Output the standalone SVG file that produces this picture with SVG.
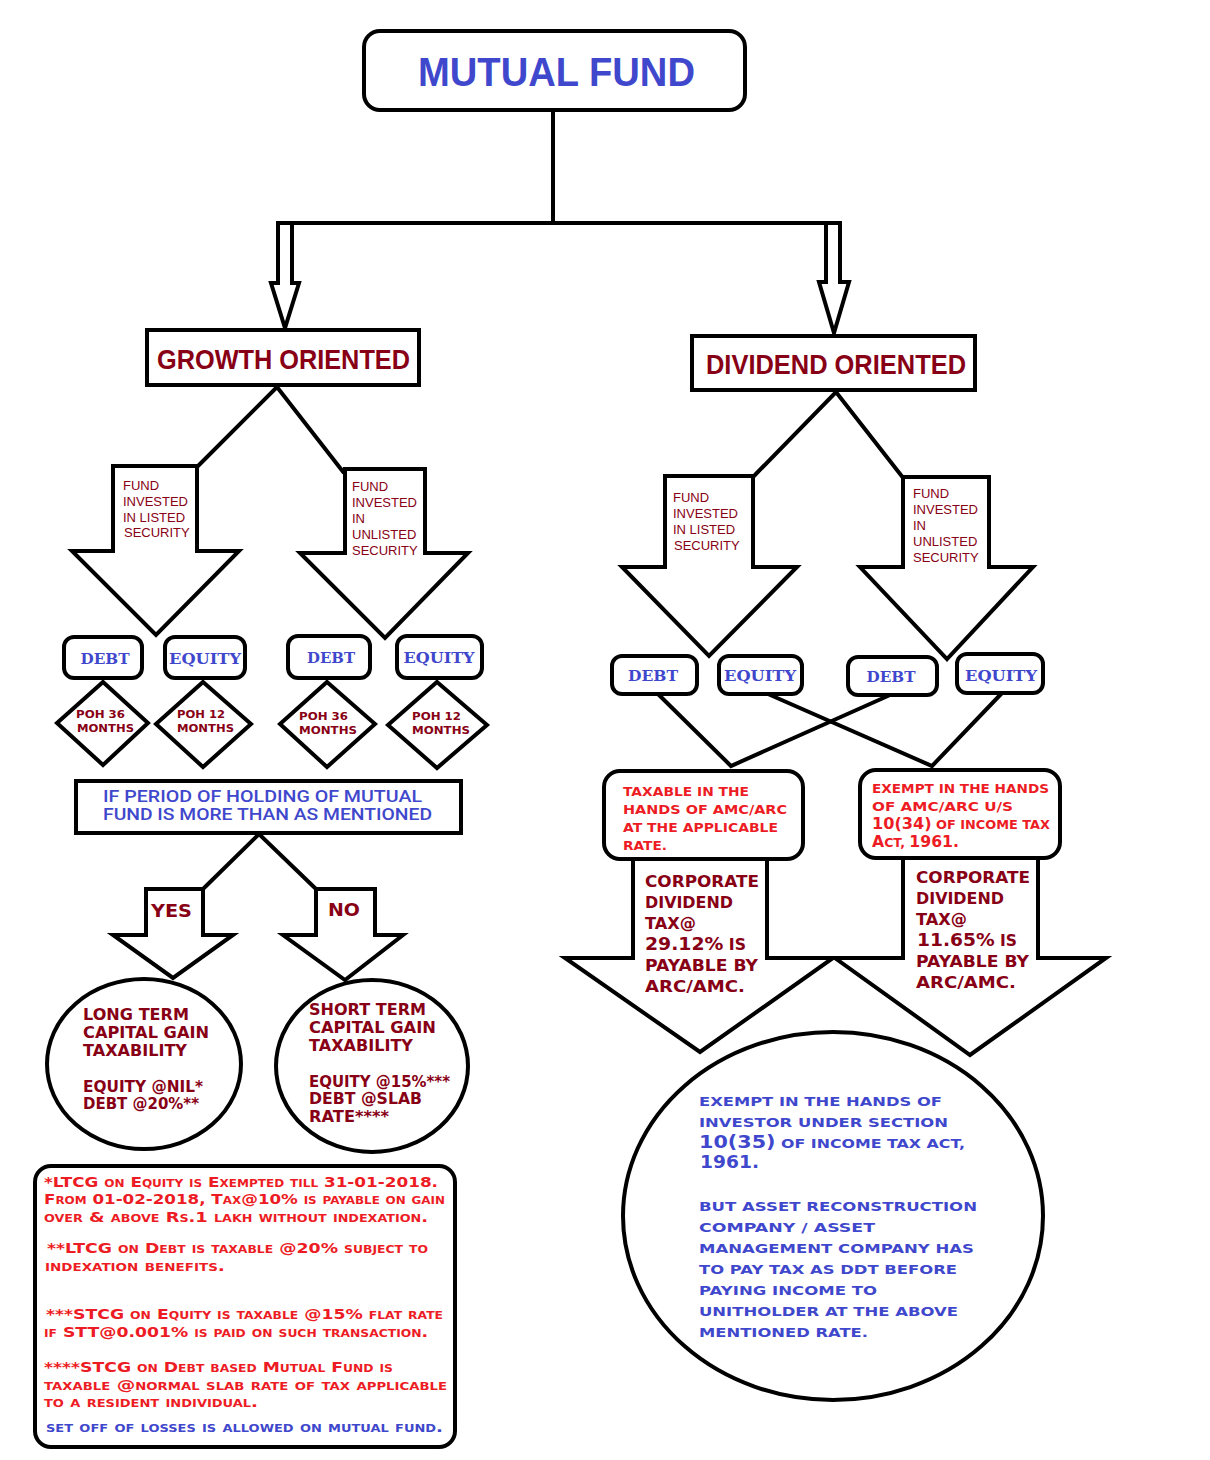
<svg xmlns="http://www.w3.org/2000/svg" width="1210" height="1460" viewBox="0 0 1210 1460">
<style>
.ln{fill:none;stroke:#000;stroke-width:4;stroke-linejoin:miter}
.bx{fill:#fff;stroke:#000;stroke-width:4;stroke-linejoin:miter}
.fi{font-family:"Liberation Sans",Arial,sans-serif;font-size:13px;fill:#880015}
.cg{font-family:"DejaVu Sans",Verdana,sans-serif;font-weight:bold}
.dr{fill:#880015}
.rd{fill:#ED1C24}
.bl{fill:#3F48CC}
.de{font-family:"DejaVu Serif",Georgia,serif;font-weight:bold;font-size:15px;fill:#3F48CC;text-anchor:middle}
.hd{font-family:"Liberation Sans",Arial,sans-serif;font-weight:bold}
.fn{font-family:"DejaVu Sans",Verdana,sans-serif;font-weight:bold;font-size:14px;font-variant:small-caps}
.pm{font-family:Roboto,"Liberation Sans",Arial,sans-serif;font-weight:500;font-size:16px;fill:#3F48CC}
</style>
<rect width="1210" height="1460" fill="#fff"/>

<g id="connectors">
  <path class="ln" d="M553,110 V223 M276,223 H842"/>
  <path class="ln" d="M278,223 V283 H271 L285,328 L299,283 H292 V225"/>
  <path class="ln" d="M826,223 V282 H819 L834,333 L849,282 H840 V225"/>
  <path class="ln" d="M197,467 L277,387 L344,473"/>
  <path class="ln" d="M753,477 L836,392 L904,479"/>
  <path class="ln" d="M203,889 L259,834 L316,889"/>
  <path class="ln" d="M658,694 L731,766 L890,695"/>
  <path class="ln" d="M768,694 L932,766 L1002,693"/>
</g>

<g id="mutual-fund">
  <rect class="bx" x="364" y="31" width="381" height="79" rx="16"/>
  <text class="hd bl" x="418" y="86" font-size="40" textLength="277" lengthAdjust="spacingAndGlyphs">MUTUAL FUND</text>
</g>

<g id="growth-oriented">
  <rect class="bx" x="147" y="330" width="272" height="55"/>
  <text class="hd dr" x="157" y="369" font-size="28" textLength="253" lengthAdjust="spacingAndGlyphs">GROWTH ORIENTED</text>
</g>

<g id="dividend-oriented">
  <rect class="bx" x="692" y="336" width="283" height="54"/>
  <text class="hd dr" x="706" y="374" font-size="28" textLength="260" lengthAdjust="spacingAndGlyphs">DIVIDEND ORIENTED</text>
</g>

<g id="growth-listed">
  <path class="bx" d="M113,466 V551 H72 L156,635 L239,551 H197 V466 Z"/>
  <text class="fi" x="123" y="490">FUND</text>
  <text class="fi" x="123" y="506">INVESTED</text>
  <text class="fi" x="123" y="522">IN LISTED</text>
  <text class="fi" x="124" y="537">SECURITY</text>
</g>

<g id="growth-unlisted">
  <path class="bx" d="M345,469 V553 H300 L385,638 L468,553 H425 V469 Z"/>
  <text class="fi" x="352" y="491">FUND</text>
  <text class="fi" x="352" y="507">INVESTED</text>
  <text class="fi" x="352" y="523">IN</text>
  <text class="fi" x="352" y="539">UNLISTED</text>
  <text class="fi" x="352" y="555">SECURITY</text>
</g>

<g id="g-debt-listed">
  <rect class="bx" x="64" y="637" width="78" height="41" rx="10"/>
  <text class="de" x="105" y="664" textLength="49" lengthAdjust="spacingAndGlyphs">DEBT</text>
</g>
<g id="g-equity-listed">
  <rect class="bx" x="165" y="637" width="80" height="41" rx="10"/>
  <text class="de" x="205" y="664" textLength="72" lengthAdjust="spacingAndGlyphs">EQUITY</text>
</g>
<g id="g-debt-unlisted">
  <rect class="bx" x="288" y="636" width="82" height="42" rx="10"/>
  <text class="de" x="331" y="663" textLength="48" lengthAdjust="spacingAndGlyphs">DEBT</text>
</g>
<g id="g-equity-unlisted">
  <rect class="bx" x="397" y="636" width="85" height="42" rx="10"/>
  <text class="de" x="439" y="663" textLength="71" lengthAdjust="spacingAndGlyphs">EQUITY</text>
</g>

<g id="poh-1">
  <polygon class="bx" points="103,682 148,723 103,765 57,723"/>
  <text class="cg dr" x="76" y="718" font-size="10" textLength="49" lengthAdjust="spacingAndGlyphs">POH 36</text>
  <text class="cg dr" x="77" y="732" font-size="10" textLength="57" lengthAdjust="spacingAndGlyphs">MONTHS</text>
</g>
<g id="poh-2">
  <polygon class="bx" points="203,682 251,724 203,767 156,724"/>
  <text class="cg dr" x="177" y="718" font-size="10" textLength="48" lengthAdjust="spacingAndGlyphs">POH 12</text>
  <text class="cg dr" x="177" y="732" font-size="10" textLength="57" lengthAdjust="spacingAndGlyphs">MONTHS</text>
</g>
<g id="poh-3">
  <polygon class="bx" points="327,682 375,724 327,767 280,724"/>
  <text class="cg dr" x="299" y="720" font-size="10" textLength="49" lengthAdjust="spacingAndGlyphs">POH 36</text>
  <text class="cg dr" x="299" y="734" font-size="10" textLength="58" lengthAdjust="spacingAndGlyphs">MONTHS</text>
</g>
<g id="poh-4">
  <polygon class="bx" points="437,682 487,725 437,768 388,725"/>
  <text class="cg dr" x="412" y="720" font-size="10" textLength="49" lengthAdjust="spacingAndGlyphs">POH 12</text>
  <text class="cg dr" x="412" y="734" font-size="10" textLength="58" lengthAdjust="spacingAndGlyphs">MONTHS</text>
</g>

<g id="period-of-holding">
  <rect class="bx" x="76" y="781" width="385" height="52"/>
  <text class="pm" x="103" y="802" textLength="319" lengthAdjust="spacingAndGlyphs">IF PERIOD OF HOLDING OF MUTUAL</text>
  <text class="pm" x="103" y="820" textLength="329" lengthAdjust="spacingAndGlyphs">FUND IS MORE THAN AS MENTIONED</text>
</g>

<g id="yes">
  <path class="bx" d="M146,889 V935 H113 L173,978 L233,935 H203 V889 Z"/>
  <text class="cg dr" x="151" y="917" font-size="18" textLength="41" lengthAdjust="spacingAndGlyphs">YES</text>
</g>
<g id="no">
  <path class="bx" d="M316,889 V935 H283 L345,980 L403,935 H375 V889 Z"/>
  <text class="cg dr" x="328" y="916" font-size="18" textLength="32" lengthAdjust="spacingAndGlyphs">NO</text>
</g>

<g id="ltcg">
  <ellipse class="bx" cx="144" cy="1064" rx="97" ry="85"/>
  <text class="cg dr" x="83" y="1020" font-size="15" textLength="106" lengthAdjust="spacingAndGlyphs">LONG TERM</text>
  <text class="cg dr" x="83" y="1038" font-size="15" textLength="126" lengthAdjust="spacingAndGlyphs">CAPITAL GAIN</text>
  <text class="cg dr" x="83" y="1056" font-size="15" textLength="104" lengthAdjust="spacingAndGlyphs">TAXABILITY</text>
  <text class="cg dr" x="83" y="1092" font-size="15" textLength="120" lengthAdjust="spacingAndGlyphs">EQUITY @NIL*</text>
  <text class="cg dr" x="83" y="1109" font-size="15" textLength="116" lengthAdjust="spacingAndGlyphs">DEBT @20%**</text>
</g>
<g id="stcg">
  <ellipse class="bx" cx="372" cy="1066" rx="96" ry="86"/>
  <text class="cg dr" x="309" y="1015" font-size="15" textLength="117" lengthAdjust="spacingAndGlyphs">SHORT TERM</text>
  <text class="cg dr" x="309" y="1033" font-size="15" textLength="127" lengthAdjust="spacingAndGlyphs">CAPITAL GAIN</text>
  <text class="cg dr" x="309" y="1051" font-size="15" textLength="104" lengthAdjust="spacingAndGlyphs">TAXABILITY</text>
  <text class="cg dr" x="309" y="1087" font-size="15" textLength="141" lengthAdjust="spacingAndGlyphs">EQUITY @15%***</text>
  <text class="cg dr" x="309" y="1104" font-size="15" textLength="113" lengthAdjust="spacingAndGlyphs">DEBT @SLAB</text>
  <text class="cg dr" x="309" y="1122" font-size="15" textLength="80" lengthAdjust="spacingAndGlyphs">RATE****</text>
</g>

<g id="footnotes">
  <rect class="bx" x="35" y="1166" width="420" height="281" rx="16"/>
  <text class="fn rd" x="44" y="1187" textLength="394" lengthAdjust="spacingAndGlyphs">*LTCG on Equity is Exempted till 31-01-2018.</text>
  <text class="fn rd" x="44" y="1204" textLength="401" lengthAdjust="spacingAndGlyphs">From 01-02-2018, Tax@10% is payable on gain</text>
  <text class="fn rd" x="44" y="1222" textLength="384" lengthAdjust="spacingAndGlyphs">over &amp; above Rs.1 lakh without indexation.</text>
  <text class="fn rd" x="47" y="1253" textLength="381" lengthAdjust="spacingAndGlyphs">**LTCG on Debt is taxable @20% subject to</text>
  <text class="fn rd" x="45" y="1271" textLength="180" lengthAdjust="spacingAndGlyphs">indexation benefits.</text>
  <text class="fn rd" x="46" y="1319" textLength="397" lengthAdjust="spacingAndGlyphs">***STCG on Equity is taxable @15% flat rate</text>
  <text class="fn rd" x="44" y="1337" textLength="384" lengthAdjust="spacingAndGlyphs">if STT@0.001% is paid on such transaction.</text>
  <text class="fn rd" x="44" y="1372" textLength="349" lengthAdjust="spacingAndGlyphs">****STCG on Debt based Mutual Fund is</text>
  <text class="fn rd" x="44" y="1390" textLength="403" lengthAdjust="spacingAndGlyphs">taxable @normal slab rate of tax applicable</text>
  <text class="fn rd" x="44" y="1407" textLength="214" lengthAdjust="spacingAndGlyphs">to a resident individual.</text>
  <text class="fn bl" x="46" y="1432" textLength="397" lengthAdjust="spacingAndGlyphs">set off of losses is allowed on mutual fund.</text>
</g>

<g id="dividend-listed">
  <path class="bx" d="M665,476 V567 H622 L709,656 L797,567 H753 V476 Z"/>
  <text class="fi" x="673" y="502">FUND</text>
  <text class="fi" x="673" y="518">INVESTED</text>
  <text class="fi" x="673" y="534">IN LISTED</text>
  <text class="fi" x="674" y="550">SECURITY</text>
</g>
<g id="dividend-unlisted">
  <path class="bx" d="M903,477 V567 H860 L947,659 L1033,567 H989 V477 Z"/>
  <text class="fi" x="913" y="498">FUND</text>
  <text class="fi" x="913" y="514">INVESTED</text>
  <text class="fi" x="913" y="530">IN</text>
  <text class="fi" x="913" y="546">UNLISTED</text>
  <text class="fi" x="913" y="562">SECURITY</text>
</g>

<g id="d-debt-listed">
  <rect class="bx" x="612" y="656" width="85" height="38" rx="10"/>
  <text class="de" x="653" y="681" textLength="50" lengthAdjust="spacingAndGlyphs">DEBT</text>
</g>
<g id="d-equity-listed">
  <rect class="bx" x="719" y="656" width="83" height="38" rx="10"/>
  <text class="de" x="760" y="681" textLength="72" lengthAdjust="spacingAndGlyphs">EQUITY</text>
</g>
<g id="d-debt-unlisted">
  <rect class="bx" x="848" y="657" width="89" height="38" rx="10"/>
  <text class="de" x="891" y="682" textLength="49" lengthAdjust="spacingAndGlyphs">DEBT</text>
</g>
<g id="d-equity-unlisted">
  <rect class="bx" x="957" y="654" width="86" height="39" rx="10"/>
  <text class="de" x="1001" y="681" textLength="72" lengthAdjust="spacingAndGlyphs">EQUITY</text>
</g>

<g id="cdt-left">
  <path class="bx" d="M633,857 V958 H565 L700,1052 L833,958 H767 V857 Z"/>
  <text class="cg dr" x="645" y="887" font-size="15" textLength="114" lengthAdjust="spacingAndGlyphs">CORPORATE</text>
  <text class="cg dr" x="645" y="908" font-size="15" textLength="88" lengthAdjust="spacingAndGlyphs">DIVIDEND</text>
  <text class="cg dr" x="645" y="929" font-size="15" textLength="51" lengthAdjust="spacingAndGlyphs">TAX@</text>
  <text class="cg dr" x="645" y="950" font-size="15" textLength="101" lengthAdjust="spacingAndGlyphs"><tspan font-size="18">29.12%</tspan> IS</text>
  <text class="cg dr" x="645" y="971" font-size="15" textLength="113" lengthAdjust="spacingAndGlyphs">PAYABLE BY</text>
  <text class="cg dr" x="645" y="992" font-size="15" textLength="100" lengthAdjust="spacingAndGlyphs">ARC/AMC.</text>
</g>
<g id="cdt-right">
  <path class="bx" d="M903,856 V958 H835 L970,1055 L1106,958 H1038 V856 Z"/>
  <text class="cg dr" x="916" y="883" font-size="15" textLength="114" lengthAdjust="spacingAndGlyphs">CORPORATE</text>
  <text class="cg dr" x="916" y="904" font-size="15" textLength="88" lengthAdjust="spacingAndGlyphs">DIVIDEND</text>
  <text class="cg dr" x="916" y="925" font-size="15" textLength="51" lengthAdjust="spacingAndGlyphs">TAX@</text>
  <text class="cg dr" x="917" y="946" font-size="15" textLength="100" lengthAdjust="spacingAndGlyphs"><tspan font-size="18">11.65%</tspan> IS</text>
  <text class="cg dr" x="916" y="967" font-size="15" textLength="113" lengthAdjust="spacingAndGlyphs">PAYABLE BY</text>
  <text class="cg dr" x="916" y="988" font-size="15" textLength="100" lengthAdjust="spacingAndGlyphs">ARC/AMC.</text>
</g>

<g id="taxable-amc">
  <rect class="bx" x="604" y="771" width="199" height="88" rx="16"/>
  <text class="cg rd" x="623" y="796" font-size="12" textLength="126" lengthAdjust="spacingAndGlyphs">TAXABLE IN THE</text>
  <text class="cg rd" x="623" y="814" font-size="12" textLength="164" lengthAdjust="spacingAndGlyphs">HANDS OF AMC/ARC</text>
  <text class="cg rd" x="623" y="832" font-size="12" textLength="155" lengthAdjust="spacingAndGlyphs">AT THE APPLICABLE</text>
  <text class="cg rd" x="623" y="850" font-size="12" textLength="44" lengthAdjust="spacingAndGlyphs">RATE.</text>
</g>
<g id="exempt-amc">
  <rect class="bx" x="860" y="770" width="200" height="88" rx="16"/>
  <text class="cg rd" x="872" y="793" font-size="12" textLength="177" lengthAdjust="spacingAndGlyphs">EXEMPT IN THE HANDS</text>
  <text class="cg rd" x="872" y="811" font-size="12" textLength="141" lengthAdjust="spacingAndGlyphs">OF AMC/ARC U/S</text>
  <text class="cg rd" x="872" y="829" font-size="12" textLength="178" lengthAdjust="spacingAndGlyphs"><tspan font-size="15">10(34)</tspan> OF INCOME TAX</text>
  <text class="cg rd" x="872" y="847" font-size="12" textLength="87" lengthAdjust="spacingAndGlyphs"><tspan font-size="15">A</tspan>CT, <tspan font-size="15">1961.</tspan></text>
</g>

<g id="exempt-investor">
  <ellipse class="bx" cx="833" cy="1216" rx="210" ry="184"/>
  <text class="cg bl" x="699" y="1106" font-size="13" textLength="243" lengthAdjust="spacingAndGlyphs">EXEMPT IN THE HANDS OF</text>
  <text class="cg bl" x="699" y="1127" font-size="13" textLength="249" lengthAdjust="spacingAndGlyphs">INVESTOR UNDER SECTION</text>
  <text class="cg bl" x="699" y="1148" font-size="13" textLength="266" lengthAdjust="spacingAndGlyphs"><tspan font-size="17">10(35)</tspan> OF INCOME TAX ACT,</text>
  <text class="cg bl" x="700" y="1168" font-size="17" textLength="59" lengthAdjust="spacingAndGlyphs">1961.</text>
  <text class="cg bl" x="699" y="1211" font-size="13" textLength="278" lengthAdjust="spacingAndGlyphs">BUT ASSET RECONSTRUCTION</text>
  <text class="cg bl" x="699" y="1232" font-size="13" textLength="176" lengthAdjust="spacingAndGlyphs">COMPANY / ASSET</text>
  <text class="cg bl" x="699" y="1253" font-size="13" textLength="275" lengthAdjust="spacingAndGlyphs">MANAGEMENT COMPANY HAS</text>
  <text class="cg bl" x="699" y="1274" font-size="13" textLength="258" lengthAdjust="spacingAndGlyphs">TO PAY TAX AS DDT BEFORE</text>
  <text class="cg bl" x="699" y="1295" font-size="13" textLength="178" lengthAdjust="spacingAndGlyphs">PAYING INCOME TO</text>
  <text class="cg bl" x="699" y="1316" font-size="13" textLength="259" lengthAdjust="spacingAndGlyphs">UNITHOLDER AT THE ABOVE</text>
  <text class="cg bl" x="699" y="1337" font-size="13" textLength="169" lengthAdjust="spacingAndGlyphs">MENTIONED RATE.</text>
</g>
</svg>
